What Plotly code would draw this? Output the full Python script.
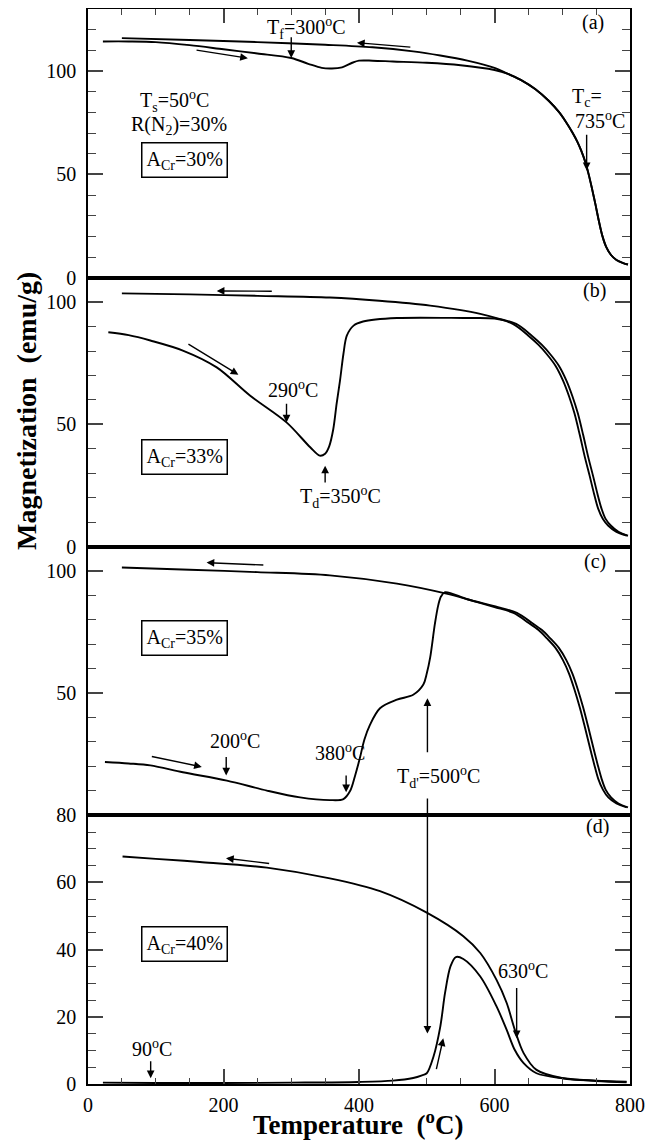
import plotly.graph_objects as go

# ---------------- data ----------------
# Panel (a) A_Cr = 30%
a_heat_T = [22, 60, 100, 150, 200, 250, 300, 325, 345, 360, 375, 390, 400, 420, 450, 500, 550, 600, 620, 640, 660, 680, 695, 705, 715, 722, 728, 734, 739, 744, 749, 754, 759, 765, 772, 780, 790, 797]
a_heat_M = [114.3, 114.3, 114.0, 112.5, 110.5, 108.5, 106.3, 103.5, 101.5, 101.2, 101.8, 104.0, 105.0, 105.0, 104.6, 104.0, 102.8, 100.5, 98.6, 95.5, 91.3, 85.6, 80.2, 75.6, 70.3, 66.0, 61.5, 56.0, 50.0, 43.0, 35.5, 27.5, 20.5, 14.8, 11.0, 8.6, 7.1, 6.4]
a_cool_T = [50, 150, 250, 350, 420, 480, 520, 560, 600, 620, 640, 660, 680, 695, 705, 715, 722, 728, 734, 739, 744, 749, 754, 759, 765, 772, 780, 790, 797]
a_cool_M = [115.9, 115.0, 114.0, 112.7, 111.5, 109.5, 107.5, 105.0, 101.5, 98.6, 95.5, 91.3, 85.6, 80.2, 75.6, 70.3, 66.0, 61.5, 56.0, 50.0, 43.0, 35.5, 27.5, 20.5, 14.8, 11.0, 8.6, 7.1, 6.4]

# Panel (b) A_Cr = 33%
b_heat_T = [30, 60, 92, 140, 190, 239, 293, 328, 342, 350, 356, 362, 367, 372, 377, 382, 392, 406, 456, 554, 600, 632, 655, 670, 682, 695, 706, 715, 723, 731, 738, 746, 752, 758, 764, 772, 783, 797]
b_heat_M = [87.7, 86.5, 84.3, 80.2, 73.3, 61.8, 50.8, 40.6, 37.2, 38.0, 41.0, 48.0, 58.5, 68.0, 78.8, 86.3, 90.4, 92.1, 93.5, 93.5, 93.3, 91.1, 86.3, 82.5, 78.8, 74.0, 68.0, 61.5, 54.5, 45.5, 37.0, 28.3, 21.5, 15.5, 11.3, 8.5, 6.0, 4.4]
b_cool_T = [50, 150, 250, 357, 430, 505, 579, 627, 650, 665, 677, 690, 701, 710, 718, 726, 733, 741, 747, 753, 760, 768, 780, 795]
b_cool_M = [103.6, 103.2, 102.6, 101.9, 100.6, 98.6, 95.2, 91.1, 86.3, 82.5, 78.8, 74.0, 68.0, 61.5, 54.5, 45.5, 37.0, 28.3, 21.5, 15.5, 11.3, 8.5, 6.0, 4.5]

# Panel (c) A_Cr = 35%
c_heat_T = [25, 60, 92, 140, 205, 264, 313, 357, 377, 387, 394, 401, 408, 416, 431, 456, 480, 495, 500, 505, 512, 517, 521, 527, 560, 605, 633, 655, 670, 682, 695, 706, 715, 723, 731, 738, 746, 752, 758, 764, 772, 783, 797]
c_heat_M = [21.8, 21.2, 20.4, 17.6, 14.2, 10.1, 7.3, 6.2, 6.6, 10.0, 16.0, 23.1, 31.0, 36.9, 43.8, 47.3, 49.3, 53.5, 58.0, 64.5, 78.3, 86.0, 89.5, 91.3, 88.4, 85.2, 82.8, 78.8, 75.8, 72.5, 68.5, 63.5, 58.0, 51.5, 44.0, 36.5, 27.5, 21.0, 15.0, 10.5, 7.3, 4.8, 3.2]
c_cool_T = [50, 150, 250, 357, 456, 529, 560, 600, 628, 650, 665, 677, 690, 701, 710, 718, 726, 733, 741, 747, 753, 760, 768, 780, 795]
c_cool_M = [101.4, 100.5, 99.5, 98.2, 94.8, 90.7, 88.4, 85.2, 82.8, 78.8, 75.8, 72.5, 68.5, 63.5, 58.0, 51.5, 44.0, 36.5, 27.5, 21.0, 15.0, 10.5, 7.3, 4.8, 3.2]

# Panel (d) A_Cr = 40%
d_heat_T = [22, 100, 200, 300, 400, 450, 480, 493, 500, 510, 520, 527, 535, 543, 554, 579, 603, 618, 630, 643, 662, 701, 750, 795]
d_heat_M = [0.4, 0.3, 0.3, 0.4, 0.6, 1.0, 1.8, 2.6, 3.2, 8.2, 17.1, 27.1, 35.0, 37.8, 37.2, 32.0, 23.1, 16.1, 10.1, 6.2, 3.2, 1.7, 0.9, 0.5]
d_cool_T = [51, 100, 165, 264, 357, 431, 500, 554, 579, 603, 618, 630, 643, 662, 701, 750, 795]
d_cool_M = [67.7, 67.0, 66.1, 64.4, 61.2, 57.4, 51.0, 44.0, 39.0, 31.0, 24.1, 16.1, 9.2, 4.2, 1.7, 1.0, 0.7]

x_ticks = [0, 200, 400, 600, 800]
panel_ranges = {"a": [0, 130], "b": [0, 110], "c": [0, 110], "d": [0, 80]}

# ---------------- figure ----------------
FONT = "Liberation Serif"
fig = go.Figure()

panels = [
    ("a", 1, a_heat_T, a_heat_M, a_cool_T, a_cool_M),
    ("b", 2, b_heat_T, b_heat_M, b_cool_T, b_cool_M),
    ("c", 3, c_heat_T, c_heat_M, c_cool_T, c_cool_M),
    ("d", 4, d_heat_T, d_heat_M, d_cool_T, d_cool_M),
]
line = dict(color="black", width=1.9, shape="spline", smoothing=0.9)
for name, i, hT, hM, cT, cM in panels:
    xa = "x" if i == 1 else f"x{i}"
    ya = "y" if i == 1 else f"y{i}"
    fig.add_trace(go.Scatter(x=hT, y=hM, mode="lines", line=line, xaxis=xa, yaxis=ya,
                             showlegend=False, hoverinfo="skip"))
    fig.add_trace(go.Scatter(x=cT, y=cM, mode="lines", line=line, xaxis=xa, yaxis=ya,
                             showlegend=False, hoverinfo="skip"))

doms = {1: [0.75, 1.0], 2: [0.5, 0.75], 3: [0.25, 0.5], 4: [0.0, 0.25]}
tickfont = dict(family=FONT, size=20, color="black")
layout = {}
for name, i, *_ in panels:
    xk = "xaxis" if i == 1 else f"xaxis{i}"
    yk = "yaxis" if i == 1 else f"yaxis{i}"
    xd = dict(domain=[0, 1], range=[0, 800], anchor="y" if i == 1 else f"y{i}",
              showline=True, linecolor="black", linewidth=1.6, mirror=True, automargin=False,
              showgrid=False, zeroline=False, tickfont=tickfont)
    if i == 1:
        xd.update(side="top", ticks="inside", ticklen=14, tickwidth=1.5, tickvals=x_ticks,
                  showticklabels=False,
                  minor=dict(ticks="inside", ticklen=6, tickwidth=1.2, dtick=50, tick0=0))
    elif i == 4:
        xd.update(ticks="inside", ticklen=15, tickwidth=1.5, tickvals=x_ticks,
                  showticklabels=True, ticklabelstandoff=2,
                  minor=dict(ticks="inside", ticklen=6, tickwidth=1.2, dtick=50, tick0=0))
    else:
        xd.update(ticks="", showticklabels=False)
    if i != 1:
        xd["matches"] = "x"
    layout[xk] = xd

    rng = panel_ranges[name]
    yd = dict(domain=doms[i], range=rng, anchor="x" if i == 1 else f"x{i}",
              showline=True, linecolor="black", linewidth=1.6, mirror="ticks", automargin=False,
              showgrid=False, zeroline=False, ticks="inside", ticklen=15, tickwidth=1.5,
              tickfont=tickfont, ticklabelstandoff=6)
    if name == "d":
        yd.update(tickmode="array", tickvals=[0, 20, 40, 60, 80],
                  minor=dict(ticks="inside", ticklen=8, tickwidth=1.2, tickmode="linear", tick0=0, dtick=5))
    elif name == "c":
        yd.update(tickmode="array", tickvals=[50, 100],
                  minor=dict(ticks="inside", ticklen=8, tickwidth=1.2, tickmode="linear", tick0=0, dtick=10))
    else:
        yd.update(tickmode="array", tickvals=[0, 50, 100],
                  minor=dict(ticks="inside", ticklen=8, tickwidth=1.2, tickmode="linear", tick0=0, dtick=10))
    layout[yk] = yd

fig.update_layout(**layout)

ann = []


def ref(i):
    return ("x" if i == 1 else f"x{i}", "y" if i == 1 else f"y{i}")


def text(i, x, y, s, box=False, size=20):
    xr, yr = ref(i)
    d = dict(x=x, y=y, xref=xr, yref=yr, text=s, showarrow=False,
             font=dict(family=FONT, size=size, color="black"), xanchor="center", yanchor="middle")
    if box:
        d.update(bordercolor="black", borderwidth=1.5, borderpad=4, bgcolor="white")
    ann.append(d)


def arrow(i, xt, yt, xh, yh):
    xr, yr = ref(i)
    ann.append(dict(x=xh, y=yh, xref=xr, yref=yr, ax=xt, ay=yt, axref=xr, ayref=yr,
                    text="", showarrow=True, arrowhead=2, arrowsize=1.1, arrowwidth=1.4,
                    arrowcolor="black", standoff=0, startstandoff=0))


deg = "<sup>o</sup>C"
# panel a
text(1, 323, 121, "T<sub>f</sub>=300" + deg)
arrow(1, 300, 117, 300, 106.3)
arrow(1, 158, 110.2, 236, 106.2)
arrow(1, 478, 111.5, 397, 113.7)
text(1, 128, 85.5, "T<sub>s</sub>=50" + deg)
text(1, 134, 73.8, "R(N<sub>2</sub>)=30%")
text(1, 143, 56.8, "A<sub>Cr</sub>=30%", box=True)
text(1, 736, 87.4, "T<sub>c</sub>=")
text(1, 756, 76.2, "735" + deg)
arrow(1, 736, 69.9, 736, 52)
text(1, 745, 123.3, "(a)")
# panel b
arrow(2, 273.5, 104.5, 190, 104.6)
arrow(2, 146, 83.2, 222, 70.3)
text(2, 302, 64.6, "290" + deg)
arrow(2, 293, 59, 293, 50.8)
arrow(2, 350, 25.6, 350, 33.1)
text(2, 372, 20.2, "T<sub>d</sub>=350" + deg)
text(2, 143, 36.5, "A<sub>Cr</sub>=33%", box=True)
text(2, 748, 104.7, "(b)")
# panel c
arrow(3, 261, 102.4, 175, 103.4)
text(3, 143, 72.7, "A<sub>Cr</sub>=35%", box=True)
arrow(3, 92, 24.2, 168, 19.8)
text(3, 217, 30.7, "200" + deg)
arrow(3, 204, 24.5, 204, 16.3)
text(3, 372, 25.9, "380" + deg)
arrow(3, 381, 16.9, 381, 9.4)
text(3, 518, 15.6, "T<sub>d'</sub>=500" + deg)
arrow(3, 501, 25.2, 501, 47.9)
text(3, 748, 103.7, "(c)")
# panel d
arrow(4, 501, 85.4, 501, 15)
arrow(4, 269.6, 65.6, 203.7, 67.2)
text(4, 143, 41.8, "A<sub>Cr</sub>=40%", box=True)
text(4, 94.5, 10.7, "90" + deg)
arrow(4, 92.5, 7.2, 92.5, 1.7)
arrow(4, 513.7, 4, 524.4, 13.6)
text(4, 642.5, 34, "630" + deg)
arrow(4, 632.7, 29, 632.7, 13.6)
text(4, 752, 76.8, "(d)")

# axis titles
ann.append(dict(x=-0.1144, y=0.626, xref="paper", yref="paper", textangle=-90,
                text="<b>Magnetization&nbsp; (emu/g)</b>", showarrow=False,
                font=dict(family=FONT, size=28, color="black"), xanchor="center", yanchor="middle"))
ann.append(dict(x=0.498, y=-0.0363, xref="paper", yref="paper",
                text="<b>Temperature&nbsp; (<sup>o</sup>C)</b>", showarrow=False,
                font=dict(family=FONT, size=27, color="black"), xanchor="center", yanchor="middle"))

# the page adds an 8 px body margin, so the figure is 8 px smaller and margins shifted
fig.update_layout(width=650, height=1132, margin=dict(l=80, r=28, t=1, b=56, autoexpand=False),
                  paper_bgcolor="white", plot_bgcolor="white", annotations=ann,
                  font=dict(family=FONT, color="black"))

fig.write_html("out.html")
